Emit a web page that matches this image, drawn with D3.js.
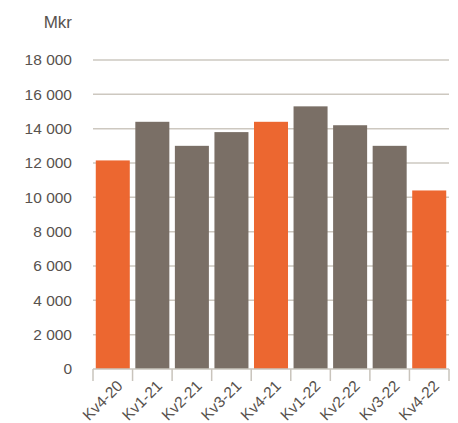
<!DOCTYPE html>
<html><head><meta charset="utf-8">
<script src="https://cdn.jsdelivr.net/npm/d3@7"></script>
<style>body{margin:0;background:#fff}svg{display:block}</style>
</head><body>
<script>
const categories = ["Kv4-20","Kv1-21","Kv2-21","Kv3-21","Kv4-21","Kv1-22","Kv2-22","Kv3-22","Kv4-22"];
const values = [12150, 14400, 13000, 13800, 14400, 15300, 14200, 13000, 10400];
const highlight = [true, false, false, false, true, false, false, false, true];
const yTicks = [0,2000,4000,6000,8000,10000,12000,14000,16000,18000];
const unitLabel = "Mkr";

const W = 458, H = 423;
const m = {left: 93, right: 9, top: 60, bottom: 54};
const svg = d3.select("body").append("svg").attr("width", W).attr("height", H);
const x = d3.scaleBand().domain(categories).range([m.left, W - m.right]).paddingInner(0.14).paddingOuter(0.07);
const y = d3.scaleLinear().domain([0, 18000]).range([H - m.bottom, m.top]);
const fmt = v => v === 0 ? "0" : d3.format(",")(v).replace(/,/g, " ");
const font = "'Liberation Sans', Arial, Helvetica, sans-serif";
const txt = "#58524e";

// gridlines
svg.append("g").selectAll("line").data(yTicks.filter(d => d > 0)).join("line")
  .attr("x1", m.left).attr("x2", W - m.right)
  .attr("y1", d => y(d)).attr("y2", d => y(d))
  .attr("stroke", "#cdc8c0").attr("stroke-width", 1.5);

// y labels
svg.append("g").selectAll("text").data(yTicks).join("text")
  .attr("x", 72).attr("y", d => y(d)).attr("dy", "0.35em")
  .attr("text-anchor", "end").attr("font-family", font).attr("font-size", 15.5)
  .attr("fill", txt).text(fmt);

svg.append("text").attr("x", 72).attr("y", 28).attr("text-anchor", "end")
  .attr("font-family", font).attr("font-size", 17).attr("fill", txt).text(unitLabel);

// bars
svg.append("g").selectAll("rect").data(categories).join("rect")
  .attr("x", d => x(d)).attr("width", x.bandwidth())
  .attr("y", (d, i) => y(values[i])).attr("height", (d, i) => y(0) - y(values[i]))
  .attr("fill", (d, i) => highlight[i] ? "#ec6730" : "#7a6f66");

// x axis
const xa = svg.append("g").attr("transform", `translate(0,${y(0)})`);
xa.append("line").attr("x1", m.left).attr("x2", W - m.right).attr("stroke", "#c9c4bc").attr("stroke-width", 1.5);
const bounds = categories.map(c => x(c) - x.step() * x.paddingInner() / 2).concat([W - m.right]);
xa.selectAll("line.tk").data(bounds).join("line").attr("class", "tk")
  .attr("x1", d => d).attr("x2", d => d).attr("y1", 0).attr("y2", 12)
  .attr("stroke", "#c9c4bc").attr("stroke-width", 1.5);
xa.selectAll("text").data(categories).join("text")
  .attr("transform", d => `translate(${x(d) + x.bandwidth() / 2 + 7},${14}) rotate(-45)`)
  .attr("text-anchor", "end").attr("dy", "0.35em")
  .attr("font-family", font).attr("font-size", 15.5).attr("fill", txt).text(d => d);
</script>
</body></html>
